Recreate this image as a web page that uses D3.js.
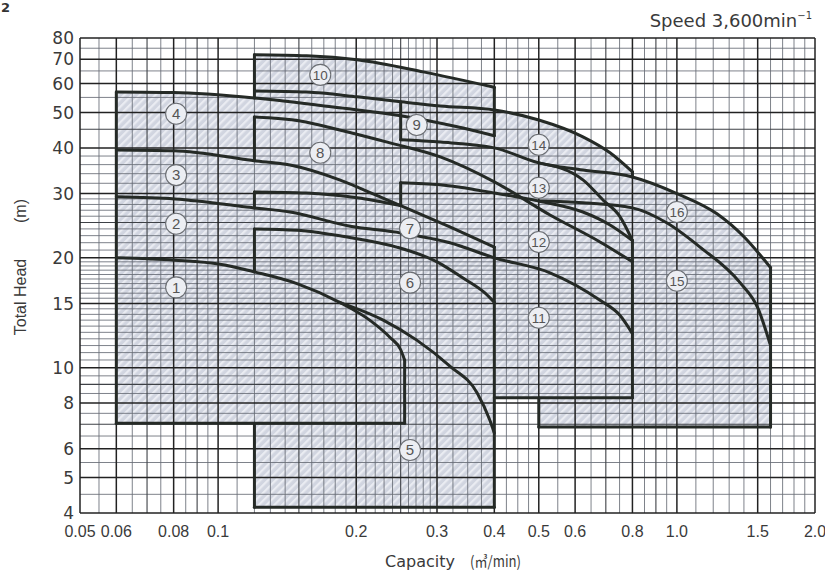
<!DOCTYPE html>
<html><head><meta charset="utf-8">
<script src="https://cdn.jsdelivr.net/npm/d3@7"></script>
<style>
html,body{margin:0;padding:0;background:#fff;}
svg{display:block;}
</style></head>
<body>
<svg id="chart" width="825" height="572"></svg>
<script>
// ---------- data (capacity m3/min, total head m) ----------
const xTickValues = [0.05,0.06,0.08,0.1,0.2,0.3,0.4,0.5,0.6,0.8,1.0,1.5,2.0];
const xTickLabels = ["0.05","0.06","0.08","0.1","0.2","0.3","0.4","0.5","0.6","0.8","1.0","1.5","2.0"];
const yTickValues = [4,5,6,8,10,15,20,30,40,50,60,70,80];
const yTickLabels = ["4","5","6","8","10","15","20","30","40","50","60","70","80"];

// pump range curves (Q, H)
const curve1  = [[0.06,20],[0.0805,19.7],[0.101,19.2],[0.12,18.3],[0.1486,17.0],[0.184,15.1],[0.214,13.5],[0.237,12.1],[0.25,11.2],[0.255,10.5]];
const curve5  = [[0.184,15.1],[0.229,13.5],[0.271,11.9],[0.32,10.1],[0.367,8.53],[0.391,7.19],[0.4,6.62]];
const curve2  = [[0.06,29.4],[0.0805,29.0],[0.12,27.4],[0.1435,26.7],[0.194,24.4],[0.25,23.4],[0.32,22.0],[0.4,20.0],[0.529,18.2],[0.68,15.3],[0.752,13.9],[0.8,12.4]];
const curve3  = [[0.06,39.5],[0.08,39.3],[0.12,36.9],[0.1435,35.9],[0.184,32.7],[0.225,29.4],[0.25,27.8],[0.32,24.3],[0.4,21.4]];
const curve4  = [[0.06,56.9],[0.08,56.7],[0.12,54.8],[0.184,51.5],[0.25,49.0],[0.332,45.7],[0.4,43.2]];
const curve6  = [[0.12,24.0],[0.1486,23.8],[0.191,22.8],[0.245,21.4],[0.30,19.5],[0.342,17.6],[0.382,16.0],[0.4,15.1]];
const curve7  = [[0.12,30.3],[0.156,30.1],[0.201,29.2],[0.25,27.8]];
const curve8  = [[0.12,48.6],[0.151,47.4],[0.184,44.8],[0.237,41.3],[0.305,37.8],[0.4,32.3],[0.529,26.2],[0.68,22.1],[0.8,19.5]];
const curve10 = [[0.12,72],[0.156,71.5],[0.201,69.7],[0.28,64.6],[0.4,58.6]];
const curve14 = [[0.12,57.3],[0.156,56.9],[0.201,55.2],[0.25,53.5],[0.305,52.1],[0.4,50.8],[0.5,47.7],[0.624,42.9],[0.715,38.8],[0.8,34.4]];
const curve13 = [[0.25,42.1],[0.305,41.5],[0.4,40.0],[0.5,36.4]];
const curve16 = [[0.5,36.4],[0.624,34.8],[0.8,33.3],[1.0,30.0],[1.223,26.4],[1.407,22.7],[1.517,20.4],[1.6,18.8]];
const curve13R = [[0.5,36.4],[0.624,32.7],[0.69,28.8],[0.752,25.9],[0.8,22.3]];
const curve12 = [[0.25,32.1],[0.305,31.7],[0.4,30.1],[0.5,28.6],[0.624,26.7],[0.715,24.6],[0.8,22.3]];
const curve15 = [[0.5,28.6],[0.624,28.3],[0.8,27.4],[0.952,24.9],[1.123,21.4],[1.373,17.1],[1.5,14.6],[1.6,11.5]];

// straight limits: [Q, Hlow, Hhigh] and [H, Qlow, Qhigh]
const verticalEdges = [
  [0.06, 7.05, 56.9], [0.255, 7.05, 10.5], [0.12, 4.15, 7.05], [0.12, 18.3, 24.0],
  [0.12, 27.4, 30.3], [0.12, 36.9, 48.6], [0.12, 54.8, 72], [0.25, 42.1, 53.5],
  [0.25, 27.8, 32.1], [0.4, 4.15, 21.4], [0.4, 43.2, 58.6], [0.5, 6.88, 8.27],
  [0.8, 8.27, 22.3], [0.8, 33.3, 34.4], [1.6, 6.88, 18.8]
];
const horizontalEdges = [[7.05, 0.06, 0.255], [4.15, 0.12, 0.4], [8.27, 0.4, 0.8], [6.88, 0.5, 1.6]];

const labelIds = ["1","2","3","4","5","6","7","8","9","10","11","12","13","14","15","16"];
const labelQ = [0.081,0.081,0.081,0.081,0.262,0.262,0.262,0.167,0.271,0.167,0.5,0.5,0.5,0.5,1.0,1.0];
const labelH = [16.6,24.8,33.7,49.6,5.95,17.1,24.1,38.8,46.2,63.4,13.7,22.1,31.1,40.8,17.3,26.7];

// ---------- drawing ----------
const svg = d3.select("#chart");
const x = d3.scaleLog().domain([0.05, 2.0]).range([80, 815]);
const y = d3.scaleLog().domain([4, 80]).range([513, 38]);

const defs = svg.append("defs");
const pat = defs.append("pattern").attr("id","hatch").attr("patternUnits","userSpaceOnUse")
  .attr("width",5.5).attr("height",5.5).attr("patternTransform","rotate(45)");
pat.append("rect").attr("width",5.5).attr("height",5.5).attr("fill","#d1d5e0");
pat.append("rect").attr("x",0).attr("width",2.2).attr("height",5.5).attr("fill","#eaecf2");

svg.append("rect").attr("width",825).attr("height",572).attr("fill","#fff");

const curveLine = d3.line().x(d=>x(d[0])).y(d=>y(d[1])).curve(d3.curveMonotoneX);
const straightLine = d3.line().x(d=>x(d[0])).y(d=>y(d[1]));
const seg = (pts, curved) => (curved ? curveLine : straightLine)(pts).replace(/^M/, "L");
const sub = (arr, q0, q1) => arr.filter(d => d[0] >= q0 - 1e-9 && d[0] <= q1 + 1e-9);

// union of shaded ranges
const fillPath = "M" + x(0.06) + "," + y(7.05)
  + seg([[0.06, curve4[0][1]]])
  + seg(sub(curve4, 0.06, 0.12), true)
  + seg(curve10, true)
  + seg(sub(curve14, 0.4, 0.8), true)
  + seg(sub(curve16, 0.8, 1.6), true)
  + seg([[1.6,6.88],[0.5,6.88],[0.5,8.27],[0.4,8.27],[0.4,4.15],[0.12,4.15],[0.12,7.05]])
  + "Z";
svg.append("path").attr("d", fillPath).attr("fill", "url(#hatch)");

// grid
function stepsBetween(a, b, s) { const out = []; for (let v = a + s; v < b - s*0.01; v += s) out.push(+v.toFixed(4)); return out; }
const xMinor = [].concat(stepsBetween(0.05,0.1,0.005), stepsBetween(0.1,0.3,0.01), stepsBetween(0.3,0.5,0.025), stepsBetween(0.5,1,0.05), stepsBetween(1,2,0.1))
  .filter(v => !xTickValues.some(t => Math.abs(t - v) < 1e-6));
const yMinor = [].concat(stepsBetween(4,10,0.5), stepsBetween(10,20,0.5), stepsBetween(20,30,1), stepsBetween(30,40,2), stepsBetween(40,80,5))
  .filter(v => !yTickValues.some(t => Math.abs(t - v) < 1e-6));
const xMid = [0.07,0.09,0.15,0.25,0.7,0.9];
const yMid = [7,9,25,45];

const grid = svg.append("g");
function vlines(vals, color, w) {
  grid.selectAll(null).data(vals).enter().append("line")
    .attr("x1", d=>x(d)).attr("x2", d=>x(d)).attr("y1", y(4)).attr("y2", y(80))
    .attr("stroke", color).attr("stroke-width", w);
}
function hlines(vals, color, w) {
  grid.selectAll(null).data(vals).enter().append("line")
    .attr("y1", d=>y(d)).attr("y2", d=>y(d)).attr("x1", x(0.05)).attr("x2", x(2.0))
    .attr("stroke", color).attr("stroke-width", w);
}
vlines(xMinor.filter(v=>!xMid.includes(v)), "#676c75", 0.85);
hlines(yMinor.filter(v=>!yMid.includes(v)), "#676c75", 0.85);
vlines(xMid, "#3e4146", 1.1);
hlines(yMid, "#3e4146", 1.1);
vlines(xTickValues, "#222", 1.5);
hlines(yTickValues, "#222", 1.5);

// range outlines
const outl = svg.append("g").attr("fill","none").attr("stroke","#252a26").attr("stroke-width",3)
  .attr("stroke-linejoin","round").attr("stroke-linecap","round");
const curves = [curve1, curve5, curve2, curve3, curve4, curve6, curve7, curve8, curve10, curve14,
  curve13.concat(curve16.slice(1)), curve13R, curve12, curve15];
outl.selectAll(null).data(curves).enter().append("path").attr("d", d => curveLine(d));
outl.selectAll(null).data(verticalEdges).enter().append("line")
  .attr("x1", d=>x(d[0])).attr("x2", d=>x(d[0])).attr("y1", d=>y(d[1])).attr("y2", d=>y(d[2]));
outl.selectAll(null).data(horizontalEdges).enter().append("line")
  .attr("y1", d=>y(d[0])).attr("y2", d=>y(d[0])).attr("x1", d=>x(d[1])).attr("x2", d=>x(d[2]));

// circled numbers
const lab = svg.append("g");
const lg = lab.selectAll(null).data(labelIds).enter().append("g")
  .attr("transform", (d,i) => `translate(${x(labelQ[i])},${y(labelH[i])})`);
lg.append("circle").attr("r", 10.5).attr("fill", "#eceef3").attr("stroke", "#6b6e73").attr("stroke-width", 1.1);
lg.append("text").text(d=>d).attr("text-anchor","middle").attr("dy","0.36em")
  .attr("font-family","Liberation Sans, Arial, sans-serif").attr("font-size", d => d.length > 1 ? 13.5 : 15)
  .attr("fill","#555");

// tick labels
svg.append("g").selectAll(null).data(yTickValues).enter().append("text")
  .attr("x", 74).attr("y", d=>y(d)).attr("dy","0.36em").attr("text-anchor","end")
  .attr("font-family","DejaVu Sans, sans-serif").attr("font-size",17).attr("fill","#3a3a3a")
  .text((d,i)=>yTickLabels[i]);
svg.append("g").selectAll(null).data(xTickValues).enter().append("text")
  .attr("x", d=>x(d)).attr("y", 537).attr("text-anchor","middle")
  .attr("font-family","Liberation Sans, Arial, sans-serif").attr("font-size",16).attr("fill","#3a3a3a")
  .text((d,i)=>xTickLabels[i]);

// titles
const sp = svg.append("text").attr("x", 812).attr("y", 27).attr("text-anchor","end")
  .attr("font-family","DejaVu Sans, sans-serif").attr("font-size",18).attr("fill","#3a3a3a");
sp.append("tspan").text("Speed 3,600min");
sp.append("tspan").attr("font-size",10).attr("dy",-8).text("−1");

svg.append("text").attr("transform","translate(26,297) rotate(-90)").attr("text-anchor","middle")
  .attr("font-family","Liberation Sans, Arial, sans-serif").attr("font-size",16).attr("fill","#3a3a3a")
  .text("Total Head");
svg.append("text").attr("transform","translate(26,211) rotate(-90)").attr("text-anchor","middle")
  .attr("font-family","Liberation Sans, Arial, sans-serif").attr("font-size",16).attr("fill","#3a3a3a")
  .text("(m)");
svg.append("text").attr("x",385).attr("y",567)
  .attr("font-family","DejaVu Sans, sans-serif").attr("font-size",16).attr("fill","#3a3a3a")
  .text("Capacity");
svg.append("text").attr("x",470).attr("y",567).attr("textLength",51).attr("lengthAdjust","spacingAndGlyphs")
  .attr("font-family","Noto Sans CJK KR, sans-serif").attr("font-size",15).attr("fill","#3a3a3a")
  .text("(㎥/min)");
svg.append("text").attr("x",1).attr("y",12).attr("font-family","DejaVu Sans, sans-serif")
  .attr("font-size",13).attr("font-weight","bold").attr("fill","#333").text("2");
</script>
</body></html>
